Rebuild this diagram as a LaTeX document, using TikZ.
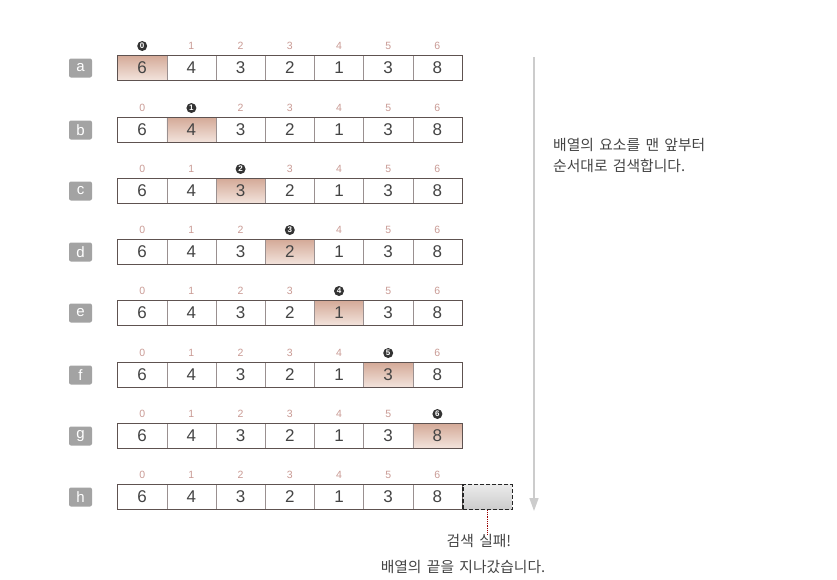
\documentclass[tikz,border=0pt]{standalone}
\usepackage{fontspec}
\setmainfont{Liberation Sans}
\newfontfamily\kr[WordSpace=1.6]{Noto Sans CJK KR}
\usetikzlibrary{arrows.meta}
\definecolor{idxc}{HTML}{C99A94}
\definecolor{hl}{HTML}{D4AA98}
\definecolor{hlb}{HTML}{F3E4DD}
\definecolor{frame}{HTML}{5E5250}
\definecolor{divc}{HTML}{9A9090}
\definecolor{lbl}{HTML}{A3A3A3}
\definecolor{txt}{HTML}{444444}
\tikzset{
  cellbox/.style={minimum width=49.2pt, minimum height=25pt, inner sep=0pt, draw=divc, line width=0.6pt, font=\fontsize{17}{17}\selectfont, text=txt},
  hlcell/.style={cellbox, top color=hl, bottom color=hlb},
  idx/.style={font=\fontsize{10.5}{10.5}\selectfont, text=idxc, inner sep=0pt},
  curidx/.style={circle, fill=black!80, text=white, font=\bfseries\fontsize{8}{8}\selectfont, inner sep=0pt, minimum size=10pt},
  rowlbl/.style={rounded corners=2pt, fill=lbl, text=white, minimum width=23pt, minimum height=19pt, inner sep=0pt, font=\fontsize{15}{15}\selectfont},
  outer/.style={draw=frame, line width=1.3pt},
  note/.style={font=\kr\fontsize{14.8}{21}\selectfont, text=txt, inner sep=0pt}
}
\begin{document}
\begin{tikzpicture}[x=1pt,y=-1pt]
\useasboundingbox (0,0) rectangle (837,579);
\def\vals{{6,4,3,2,1,3,8}}
\foreach \r/\L [count=\k from 0] in {68/a,130/b,191/c,252/d,313/e,375/f,436/g,497/h}{
  \node[rowlbl] (lbl\L) at (80.5,\r) {\L};
  \foreach \i in {0,...,6}{
    \pgfmathtruncatemacro{\v}{\vals[\i]}
    \ifnum\i=\k
      \node[hlcell] (c\L\i) at ({142.2+49.2*\i},\r) {\v};
      \node[curidx] (i\L\i) at ({142.2+49.2*\i},{\r-22}) {\i};
    \else
      \node[cellbox] (c\L\i) at ({142.2+49.2*\i},\r) {\v};
      \node[idx] (i\L\i) at ({142.2+49.2*\i},{\r-22}) {\i};
    \fi
  }
  \draw[outer] (c\L0.north west) rectangle (c\L6.south east);
}
% beyond the end
\node[minimum width=49.2pt, minimum height=25pt, inner sep=0pt, top color=black!8, bottom color=black!20, draw=black!85, dash pattern=on 4pt off 2pt, line width=1.2pt, anchor=west] (past) at (ch6.east) {};
\node[note] (fail) at (479,541) {검색 실패!};
\node[note] (fail2) at (463,567) {배열의 끝을 지나갔습니다.};
\draw[densely dotted, draw=red!60!black, line width=0.8pt] (past.south) -- (past.south |- fail.north);
% arrow
\coordinate (atop) at (534,57);
\coordinate (abot) at (534,511);
\draw[draw=black!20, line width=1.6pt, -{Triangle[width=9pt,length=13pt]}] (atop) -- (abot);
\node[note, anchor=north west, align=left] (desc) at (553,138) {배열의 요소를 맨 앞부터\\순서대로 검색합니다.};
\end{tikzpicture}
\end{document}
